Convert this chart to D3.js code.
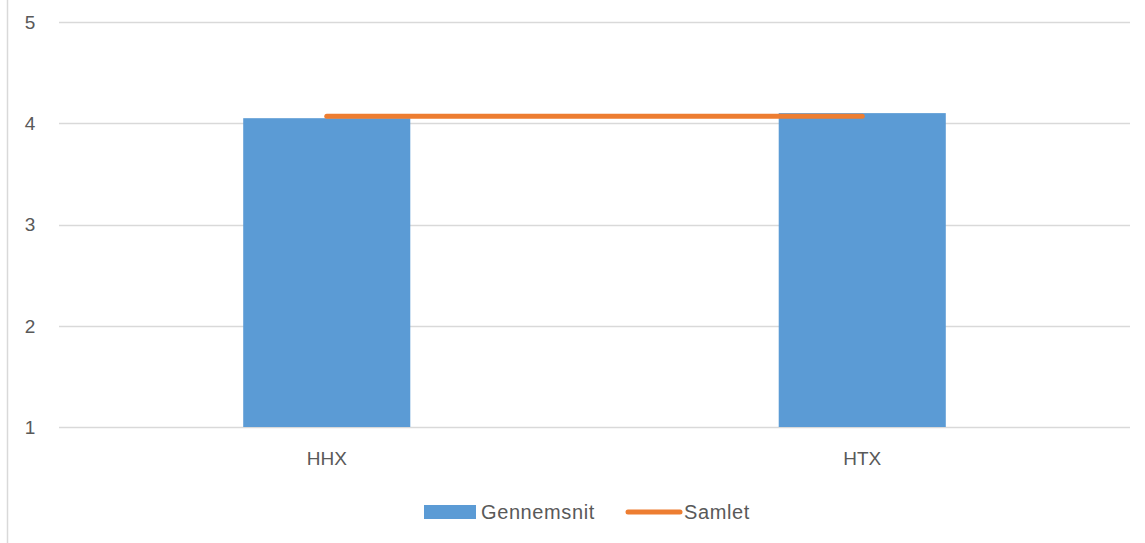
<!DOCTYPE html>
<html>
<head>
<meta charset="utf-8">
<script src="https://cdn.jsdelivr.net/npm/d3@7"></script>
<style>
  body { margin: 0; background: #fff; }
  svg { display: block; font-family: "Liberation Sans", Arial, sans-serif; }
</style>
</head>
<body>
<svg id="chart"></svg>
<script>
// data
const categories = ["HHX", "HTX"];
const gennemsnit = [4.05, 4.10];
const samlet = [4.07, 4.07];
const yTicks = [1, 2, 3, 4, 5];
const seriesNames = ["Gennemsnit", "Samlet"];

const width = 1145, height = 543;
const margin = {top: 22, right: 15, bottom: 116, left: 59};

const svg = d3.select("#chart").attr("width", width).attr("height", height);

// left frame edge
svg.append("line")
    .attr("x1", 7.5).attr("x2", 7.5).attr("y1", 0).attr("y2", height)
    .attr("stroke", "#d9d9d9").attr("stroke-width", 1.5);

const x = d3.scaleBand()
    .domain(categories)
    .range([margin.left, width - margin.right])
    .paddingInner(0.688)
    .paddingOuter(0.344);

const y = d3.scaleLinear()
    .domain([1, 5])
    .range([height - margin.bottom, margin.top]);

// grid
svg.append("g")
    .selectAll("line")
    .data(yTicks)
    .join("line")
    .attr("x1", margin.left).attr("x2", width - margin.right)
    .attr("y1", d => Math.round(y(d)) + 0.5).attr("y2", d => Math.round(y(d)) + 0.5)
    .attr("stroke", "#d9d9d9").attr("stroke-width", 1.5);

// y tick labels
svg.append("g")
    .selectAll("text")
    .data(yTicks)
    .join("text")
    .attr("x", 30).attr("y", d => y(d))
    .attr("text-anchor", "middle").attr("dy", "0.36em")
    .attr("fill", "#595959").attr("font-size", 19)
    .text(d => d);

// bars
svg.append("g")
    .selectAll("rect")
    .data(categories)
    .join("rect")
    .attr("x", d => x(d))
    .attr("width", x.bandwidth())
    .attr("y", (d, i) => y(gennemsnit[i]))
    .attr("height", (d, i) => y(1) - y(gennemsnit[i]))
    .attr("fill", "#5b9bd5");

// line
const line = d3.line()
    .x((d, i) => x(categories[i]) + x.bandwidth() / 2)
    .y(d => y(d));
svg.append("path")
    .datum(samlet)
    .attr("d", line)
    .attr("fill", "none")
    .attr("stroke", "#ed7d31").attr("stroke-width", 5)
    .attr("stroke-linecap", "round");

// x labels
svg.append("g")
    .selectAll("text")
    .data(categories)
    .join("text")
    .attr("x", d => x(d) + x.bandwidth() / 2)
    .attr("y", 465)
    .attr("text-anchor", "middle")
    .attr("fill", "#595959").attr("font-size", 19)
    .text(d => d);

// legend
const lg = svg.append("g").attr("fill", "#595959").attr("font-size", 20).attr("letter-spacing", 0.6);
lg.append("rect").attr("x", 424).attr("y", 505).attr("width", 52).attr("height", 14).attr("fill", "#5b9bd5");
lg.append("text").attr("x", 481).attr("y", 512).attr("dy", "0.36em").text(seriesNames[0]);
lg.append("line").attr("x1", 628).attr("x2", 680).attr("y1", 512).attr("y2", 512)
    .attr("stroke", "#ed7d31").attr("stroke-width", 5).attr("stroke-linecap", "round");
lg.append("text").attr("x", 684).attr("y", 512).attr("dy", "0.36em").text(seriesNames[1]);
</script>
</body>
</html>
